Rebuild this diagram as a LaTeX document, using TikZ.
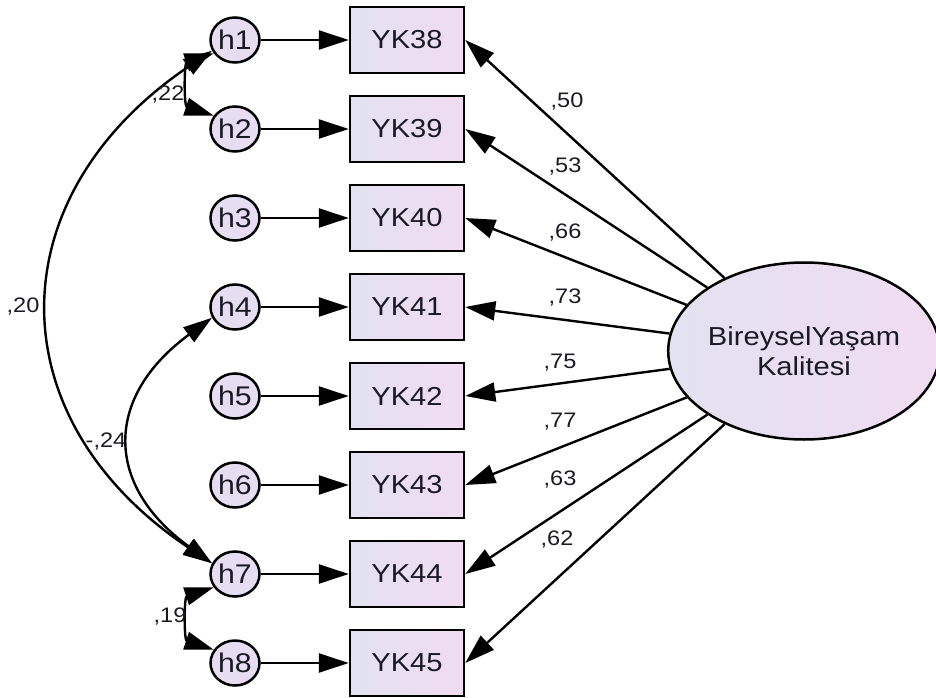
\documentclass[tikz,border=0pt]{standalone}
\usepackage{fontspec}
\setmainfont[FakeStretch=1.12]{Liberation Sans}
\usetikzlibrary{arrows.meta,shapes.geometric}
\definecolor{boxL}{HTML}{E2E2F0}
\definecolor{boxR}{HTML}{F1DCF1}
\definecolor{errF}{HTML}{E6DDF2}
\definecolor{txt}{HTML}{1A1A24}
\begin{document}
\begin{tikzpicture}[x=1pt,y=1pt,
  obs/.style={draw=black, line width=2.5pt, minimum width=114pt, minimum height=66pt,
    left color=boxL, right color=boxR, font=\fontsize{26}{30}\selectfont, text=txt, inner sep=0pt},
  err/.style={ellipse, draw=black, line width=2.5pt, minimum width=49pt, minimum height=45pt,
    fill=errF, font=\fontsize{27}{30}\selectfont, text=txt, inner sep=0pt},
  lat/.style={ellipse, draw=black, line width=2.5pt, minimum width=262pt, minimum height=177pt,
    left color=boxL, right color=boxR, font=\fontsize{26}{30}\selectfont, text=txt, align=center, inner sep=0pt},
  coef/.style={font=\fontsize{21}{24}\selectfont, text=txt, inner sep=0pt},
  arr/.style={line width=2.4pt, -{Triangle[length=30pt,width=19pt]}},
  cov/.style={line width=2.4pt, {Triangle[length=29pt,width=18pt]}-{Triangle[length=29pt,width=18pt]}}
]
\useasboundingbox (0,0) rectangle (936,697);

\foreach \i/\yy/\lab in {1/657/38,2/568/39,3/479/40,4/390/41,5/301/42,6/212/43,7/123/44,8/34/45}{
  \node[err] (h\i) at (235,\yy) {h\i};
  \node[obs] (y\i) at (407,\yy) {YK\lab};
  \draw[arr] (h\i) -- (y\i);
}

\node[lat] (L) at (804,346) {BireyselYaşam\\Kalitesi};

\foreach \i in {1,...,8}{
  \draw[arr] (L) -- (y\i.east);
}

\node[coef] (c1) at (567,595) {,50};
\node[coef] (c2) at (565,530) {,53};
\node[coef] (c3) at (565,464) {,66};
\node[coef] (c4) at (565,399) {,73};
\node[coef] (c5) at (560,334) {,75};
\node[coef] (c6) at (560,275) {,77};
\node[coef] (c7) at (560,217) {,63};
\node[coef] (c8) at (557,157) {,62};

% covariances
\draw[cov] (h1.212) .. controls (184,634) and (184,591) .. (h2.148);
\draw[cov] (h7.212) .. controls (184,100) and (184,57) .. (h8.148);
\draw[cov] (h1.205) .. controls (-4,500) and (-4,278) .. (h7.155);
\draw[cov] (h4.205) .. controls (104,300) and (104,212) .. (h7.155);

\node[coef] (k12) at (168,602) {,22};
\node[coef] (k17) at (23,390) {,20};
\node[coef] (k47) at (106,255) {-,24};
\node[coef] (k78) at (170,80) {,19};
\end{tikzpicture}
\end{document}
